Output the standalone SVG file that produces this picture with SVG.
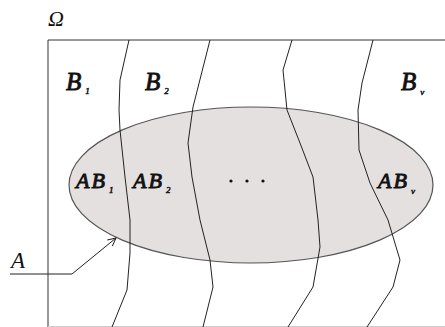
<svg xmlns="http://www.w3.org/2000/svg" width="445" height="327" viewBox="0 0 445 327">
<style>
text{font-family:"Liberation Serif","Times New Roman",serif;font-style:italic;fill:#111}
.t{stroke:#111;stroke-width:0.9}
.b{font-size:25px}
.ab{font-size:22px;letter-spacing:2px}
.sub{font-size:9px;letter-spacing:0;stroke-width:0.5}
.cur{fill:none;stroke:#222;stroke-width:1}
</style>
<defs>
<marker id="arr" markerWidth="10" markerHeight="10" refX="9" refY="5" orient="auto" markerUnits="userSpaceOnUse">
<path d="M1,1 L9,5 L1,9" fill="none" stroke="#222" stroke-width="1"/>
</marker>
</defs>
<rect width="445" height="327" fill="#fff"/>
<g id="frame">
<path d="M48,327 L48,40 L445,40" fill="none" stroke="#333" stroke-width="1"/>
<line x1="48" y1="326.5" x2="445" y2="326.5" stroke="#ccc" stroke-width="1"/>
<text x="48" y="26" font-size="22" fill="#222">Ω</text>
</g>
<g id="setA">
<ellipse cx="251" cy="185" rx="182" ry="78" fill="#e3e0df" stroke="#555" stroke-width="1.2"/>
</g>
<g id="connectors">
<path class="cur" d="M129,40 L120,80 L119,110 L120,130 L125,177 L130,220 L130,253 L127,290 L112,327"/>
<path class="cur" d="M210,40 L193,107 L188,143 L192,177 L200,220 L210,260 L213,287 L203,327"/>
<path class="cur" d="M292,40 L283,70 L287,110 L300,143 L313,177 L318,220 L320,247 L313,287 L288,327"/>
<path class="cur" d="M373,40 L362,83 L358,110 L359,150 L370,183 L388,220 L400,260 L393,287 L367,327"/>
<path class="cur" d="M10,274 L72,274 L116,238" marker-end="url(#arr)"/>
</g>
<g id="labels">
<text class="t b" x="66" y="90">B<tspan class="sub" dx="4" dy="4">1</tspan></text>
<text class="t b" x="145" y="90">B<tspan class="sub" dx="4" dy="4">2</tspan></text>
<text class="t b" x="401" y="90">B<tspan class="sub" dx="4" dy="5">v</tspan></text>
<text class="t ab" x="76" y="188">AB<tspan class="sub" dx="2" dy="5">1</tspan></text>
<text class="t ab" x="133" y="188">AB<tspan class="sub" dx="2" dy="5">2</tspan></text>
<text class="t ab" x="378" y="188">AB<tspan class="sub" dx="2" dy="6">v</tspan></text>
<circle cx="231" cy="181" r="1.6" fill="#111"/>
<circle cx="247" cy="181" r="1.6" fill="#111"/>
<circle cx="263" cy="181" r="1.6" fill="#111"/>
<text x="11" y="268" font-size="23" fill="#222">A</text>
</g>
</svg>
